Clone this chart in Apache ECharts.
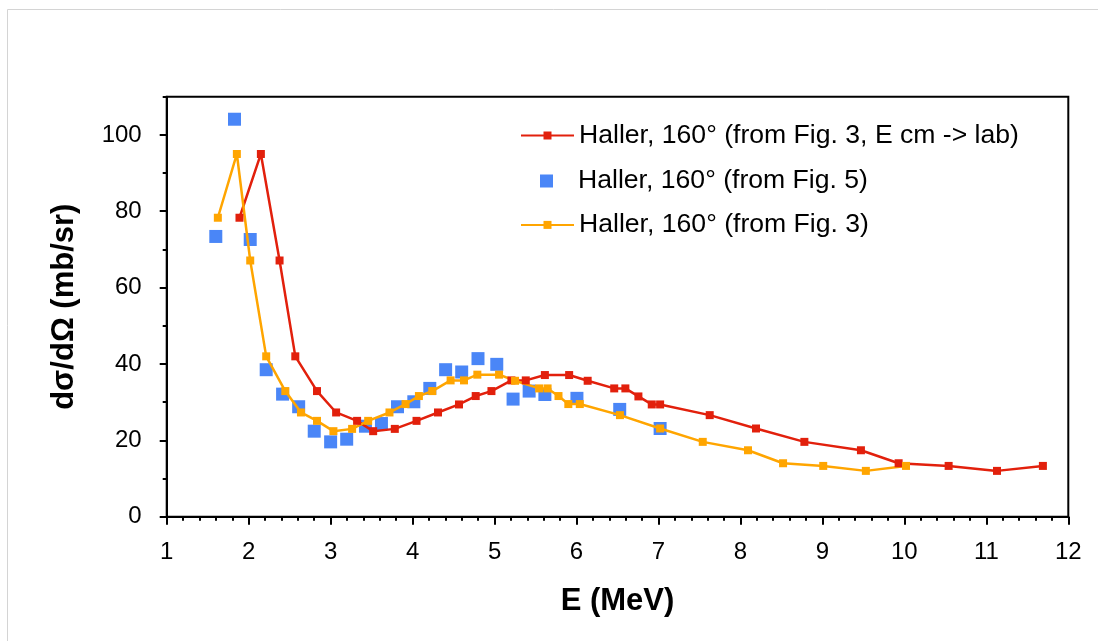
<!DOCTYPE html>
<html><head><meta charset="utf-8">
<script src="https://cdn.jsdelivr.net/npm/echarts@6/dist/echarts.min.js"></script>
<style>html,body{margin:0;padding:0;background:#fff}#c{width:1098px;height:641px}</style>
</head><body><div id="c"></div>
<script>
// Haller, 160° (from Fig. 3, E cm -> lab)
const redE = [1.888, 2.149, 2.377, 2.569, 2.834, 3.067, 3.323, 3.519, 3.783, 4.048, 4.31, 4.566, 4.77, 4.962, 5.206, 5.381, 5.614, 5.91, 6.136, 6.46, 6.596, 6.755, 6.918, 7.02, 7.625, 8.19, 8.78, 9.47, 9.93, 10.54, 11.13, 11.69];
const redV = [78.3, 95.0, 67.1, 42.0, 32.9, 27.3, 25.1, 22.4, 23.0, 25.1, 27.3, 29.4, 31.6, 32.9, 35.7, 35.7, 37.1, 37.1, 35.6, 33.6, 33.6, 31.5, 29.4, 29.4, 26.6, 23.1, 19.6, 17.4, 14.0, 13.3, 12.0, 13.3];
// Haller, 160° (from Fig. 5)
const blueE = [1.599, 1.827, 2.019, 2.214, 2.414, 2.61, 2.80, 3.0, 3.196, 3.425, 3.62, 3.816, 4.015, 4.21, 4.403, 4.599, 4.798, 5.027, 5.226, 5.422, 5.614, 6.005, 6.527, 7.02];
const blueV = [73.4, 104.1, 72.6, 38.5, 32.1, 28.8, 22.4, 19.6, 20.3, 23.7, 24.4, 28.8, 30.1, 33.6, 38.5, 37.9, 41.4, 39.9, 30.8, 32.9, 32.0, 31.0, 28.1, 23.1];
// Haller, 160° (from Fig. 3)
const orangeE = [1.624, 1.856, 2.019, 2.214, 2.447, 2.638, 2.834, 3.034, 3.262, 3.458, 3.718, 3.914, 4.077, 4.24, 4.464, 4.627, 4.79, 5.055, 5.25, 5.544, 5.647, 5.78, 5.90, 6.04, 6.53, 7.02, 7.54, 8.092, 8.52, 9.01, 9.53, 10.02];
const orangeV = [78.3, 95.0, 67.1, 42.0, 32.9, 27.3, 25.1, 22.4, 23.0, 25.1, 27.3, 29.5, 31.6, 32.9, 35.7, 35.7, 37.2, 37.2, 35.6, 33.6, 33.6, 31.6, 29.5, 29.5, 26.6, 23.1, 19.6, 17.4, 14.0, 13.3, 12.0, 13.3];

const yMajorTicks = [0, 20, 40, 60, 80, 100];
const yMinorTicks = [10, 30, 50, 70, 90, 110];

const names = ['Haller, 160° (from Fig. 3, E cm -> lab)', 'Haller, 160° (from Fig. 5)', 'Haller, 160° (from Fig. 3)'];
const colors = ['#e2200c', '#4a86f7', '#ffa500'];

const zip = (a, b) => a.map((x, i) => [x, b[i]]);
const FONT = "'Liberation Sans', Arial, Helvetica, sans-serif";

const chart = echarts.init(document.getElementById('c'), null, {renderer: 'canvas'});
chart.setOption({
  animation: false,
  backgroundColor: '#ffffff',
  graphic: [{
    type: 'rect', silent: true, z: -10,
    shape: {x: 7.5, y: 9.5, width: 1300, height: 900},
    style: {fill: 'none', stroke: '#d4d4d4', lineWidth: 1}
  }],
  grid: {left: 166.7, right: 29.7, top: 96.7, bottom: 124.3, show: true, borderColor: '#000', borderWidth: 2, backgroundColor: 'transparent'},
  xAxis: {
    type: 'value', min: 1, max: 12, interval: 1,
    name: 'E (MeV)', nameLocation: 'middle', nameGap: 69,
    nameTextStyle: {fontFamily: FONT, fontSize: 31, fontWeight: 'bold', color: '#000'},
    axisLine: {show: true, onZero: false, lineStyle: {color: '#000', width: 2}},
    axisTick: {show: true, length: 8, lineStyle: {color: '#000', width: 2}},
    minorTick: {show: true, splitNumber: 5, length: 4, lineStyle: {color: '#000', width: 2}},
    splitLine: {show: false}, minorSplitLine: {show: false},
    axisLabel: {fontFamily: FONT, fontSize: 24, color: '#000', margin: 24}
  },
  yAxis: [{
    type: 'value', min: 0, max: 110, interval: 20,
    name: 'dσ/dΩ (mb/sr)', nameLocation: 'middle', nameRotate: 90, nameGap: 87,
    nameTextStyle: {fontFamily: FONT, fontSize: 31, fontWeight: 'bold', color: '#000'},
    axisLine: {show: true, onZero: false, lineStyle: {color: '#000', width: 2}},
    axisTick: {show: true, length: 7, customValues: yMajorTicks, lineStyle: {color: '#000', width: 2}},
    splitLine: {show: false},
    axisLabel: {fontFamily: FONT, fontSize: 24, color: '#000', margin: 25, customValues: yMajorTicks}
  }, {
    type: 'value', min: 0, max: 110, interval: 10, position: 'left',
    axisLine: {show: false}, axisLabel: {show: false}, splitLine: {show: false},
    axisTick: {show: true, length: 4, customValues: yMinorTicks, lineStyle: {color: '#000', width: 2}}
  }],
  legend: [{
    data: [names[0], names[2]], orient: 'vertical', left: 520, top: 122, padding: 0,
    itemWidth: 53, itemHeight: 10, itemGap: 62.4,
    textStyle: {fontFamily: FONT, fontSize: 26.6, lineHeight: 26.2, color: '#000'}
  }, {
    data: [{name: names[1], icon: 'path://M0,0L0.01,0L0,0.01Z M20,0H33V13H20Z M53,13L52.99,13L53,12.99Z'}],
    orient: 'vertical', left: 520, top: 167.5, padding: 0,
    itemWidth: 53, itemHeight: 13,
    textStyle: {fontFamily: FONT, fontSize: 26.6, lineHeight: 26.2, color: '#000'}
  }],
  series: [{
    name: names[0], type: 'line', data: zip(redE, redV),
    symbol: 'rect', symbolSize: 8, color: colors[0],
    lineStyle: {width: 2.5, color: colors[0]}, itemStyle: {color: colors[0]}
  }, {
    name: names[1], type: 'scatter', data: zip(blueE, blueV),
    symbol: 'rect', symbolSize: 13, itemStyle: {color: colors[1], opacity: 1}
  }, {
    name: names[2], type: 'line', data: zip(orangeE, orangeV),
    symbol: 'rect', symbolSize: 8, color: colors[2],
    lineStyle: {width: 2.5, color: colors[2]}, itemStyle: {color: colors[2]}
  }]
});
</script>
</body></html>
